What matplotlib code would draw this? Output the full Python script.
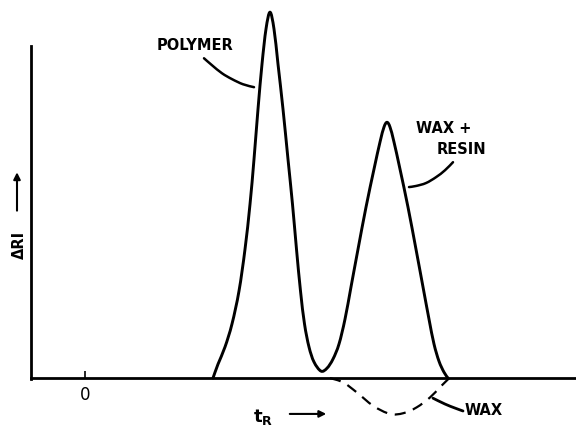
import matplotlib
matplotlib.use('Agg')
import matplotlib.pyplot as plt
import numpy as np
from matplotlib.path import Path
from matplotlib.patches import PathPatch

plt.rcParams['font.family'] = 'DejaVu Sans'
plt.rcParams['mathtext.fontset'] = 'dejavusans'

# retention time (arbitrary units) vs refractive index response (polymer peak = 100)
t_total = [12.8, 13.3, 14.0, 14.7, 15.4, 16.0, 16.5, 16.9, 17.3, 17.7, 18.1, 18.5,
           18.9, 19.3, 19.8, 20.3, 20.75, 21.15, 21.55, 21.95, 22.4, 22.9, 23.6,
           24.2, 24.8, 25.4, 26.0, 26.6, 27.3, 28.1, 28.9, 29.5, 29.9, 30.2,
           30.5, 30.9, 31.5, 32.3, 33.1, 33.8, 34.4, 34.9, 35.4, 35.9, 36.3]
ri_total = [0.0, 3.8, 8.5, 14.8, 23.8, 35.2, 47.5, 59.8, 73.5, 85.8, 95.4, 100.0,
            95.4, 85.8, 73.5, 59.8, 47.5, 35.2, 23.8, 14.8, 8.5, 4.4, 1.9,
            2.7, 5.2, 9.3, 16.1, 24.9, 35.2, 46.7, 57.1, 64.5, 68.6, 69.9,
            68.6, 64.5, 57.1, 46.7, 35.2, 24.9, 16.1, 9.3, 4.6, 1.6, 0.0]

t_wax = [24.5, 25.83, 27.17, 28.83, 30.5, 31.83, 33.17, 34.5, 35.5, 36.43]
ri_wax = [0.0, -1.2, -3.9, -7.6, -9.8, -9.6, -8.0, -5.3, -2.5, 0.0]

# label leader lines
lead_polymer_x = [11.9, 12.7, 13.7, 14.7, 15.8, 16.9]
lead_polymer_y = [87.4, 85.5, 83.3, 81.7, 80.3, 79.5]
lead_resin_x = [36.8, 36.0, 35.1, 34.1, 33.1, 32.4]
lead_resin_y = [59.0, 56.8, 54.9, 53.3, 52.5, 52.2]
lead_wax_x = [34.8, 36.0, 37.0, 37.8]
lead_wax_y = [-5.5, -7.1, -8.2, -9.0]


def smooth_path(xs, ys):
    # catmull-rom through the points, drawn as cubic bezier segments
    p = np.column_stack([xs, ys]).astype(float)
    p = np.vstack([p[0], p, p[-1]])
    verts = [p[1]]
    codes = [Path.MOVETO]
    for i in range(1, len(p) - 2):
        c1 = p[i] + (p[i + 1] - p[i - 1]) / 6
        c2 = p[i + 1] - (p[i + 2] - p[i]) / 6
        verts += [c1, c2, p[i + 1]]
        codes += [Path.CURVE4] * 3
    return Path(verts, codes)


def draw(ax, xs, ys, **kw):
    ax.add_patch(PathPatch(smooth_path(xs, ys), fill=False, edgecolor='black',
                           capstyle='round', joinstyle='round', **kw))


fig = plt.figure(figsize=(5.76, 4.27), dpi=100)
ax = fig.add_axes([0, 0, 1, 1])
ax.set_xlim(-8.5, 49.1)
ax.set_ylim(-13.1, 103.6)

draw(ax, t_total, ri_total, lw=2.1)
wax = PathPatch(smooth_path(t_wax, ri_wax), fill=False, edgecolor='black', lw=1.6)
wax.set_linestyle((0, (5, 3.5)))
ax.add_patch(wax)

draw(ax, lead_polymer_x, lead_polymer_y, lw=1.8)
draw(ax, lead_resin_x, lead_resin_y, lw=1.8)
draw(ax, lead_wax_x, lead_wax_y, lw=2.0)

# axes as drawn lines
for s in ['top', 'right']:
    ax.spines[s].set_visible(False)
ax.spines['left'].set_position(('data', -5.4))
ax.spines['left'].set_bounds(-0.3, 90.7)
ax.spines['bottom'].set_position(('data', 0))
ax.spines['bottom'].set_bounds(-5.4, 49.1)
for s in ['left', 'bottom']:
    ax.spines[s].set_linewidth(2.0)

ax.set_yticks([])
ax.set_xticks([0])
ax.set_xticklabels(['0'])
ax.tick_params(axis='x', direction='in', length=5, width=1.2, pad=5, labelsize=12)

txt = dict(fontsize=10.5, fontweight='bold', ha='center', va='center')
ax.text(11.0, 91.3, 'POLYMER', **txt)
ax.text(35.9, 68.6, 'WAX +', **txt)
ax.text(37.6, 62.8, 'RESIN', **txt)
ax.text(39.9, -8.7, 'WAX', **txt)

ax.text(-6.6, 36.6, 'ΔRI', rotation=90, **txt)
ax.annotate('', xy=(-6.8, 57.0), xytext=(-6.8, 45.0),
            arrowprops=dict(arrowstyle='-|>', color='black', lw=1.5, mutation_scale=10))

ax.text(17.8, -10.4, r'$\mathbf{t_R}$', fontsize=13, ha='center', va='center')
ax.annotate('', xy=(24.4, -9.8), xytext=(20.2, -9.8),
            arrowprops=dict(arrowstyle='-|>', color='black', lw=1.5, mutation_scale=10))

fig.savefig('out.png', dpi=100)
